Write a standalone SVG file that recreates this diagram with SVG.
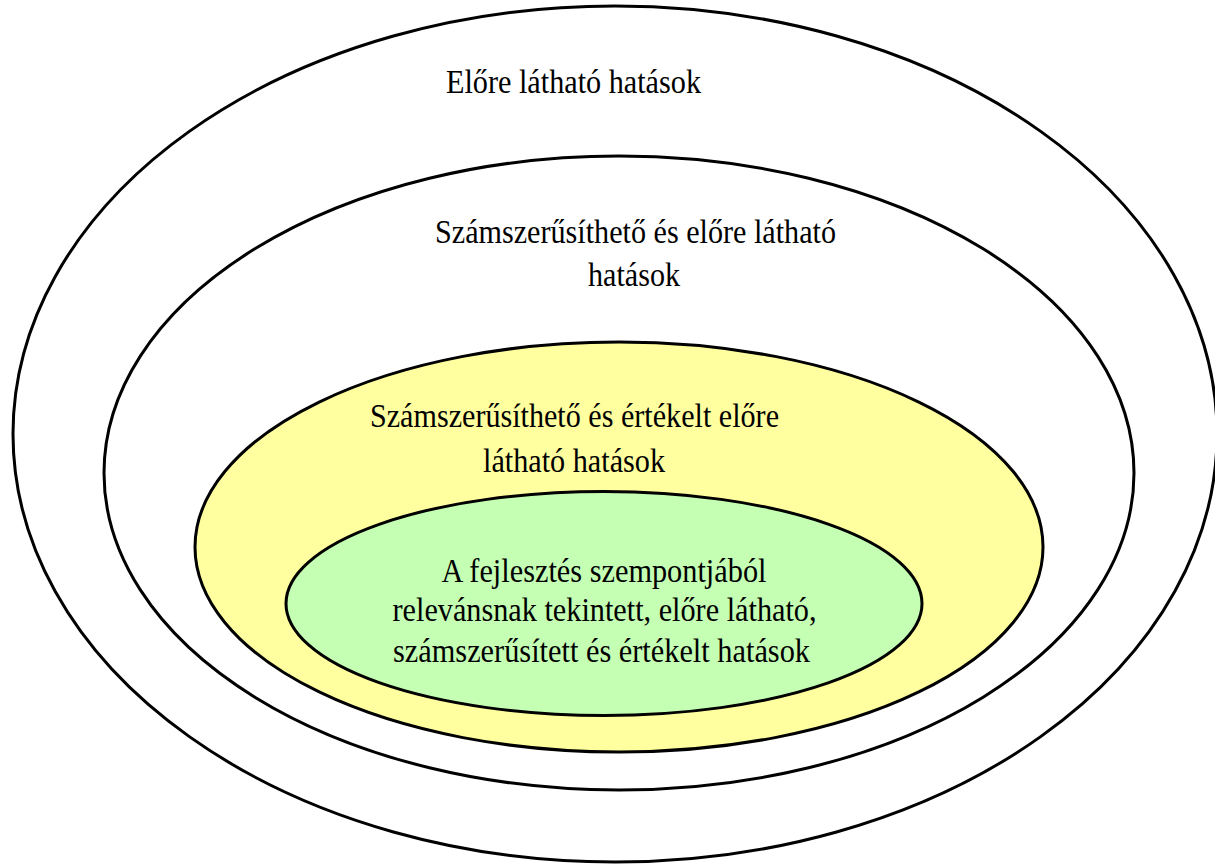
<svg xmlns="http://www.w3.org/2000/svg" width="1215" height="865" viewBox="0 0 1215 865">
<style>
.e{stroke:#000;stroke-width:3}
.t{font-family:"Liberation Serif","Times New Roman",serif;font-size:34px;fill:#000;text-anchor:middle}
</style>
<rect width="1215" height="865" fill="#fff"/>
<g id="outer">
<ellipse class="e" cx="615" cy="434" rx="602" ry="428" fill="#fff"/>
<text class="t" x="573.5" y="93" textLength="255" lengthAdjust="spacingAndGlyphs">Előre látható hatások</text>
</g>
<g id="quantifiable">
<ellipse class="e" cx="619" cy="473" rx="515" ry="317" fill="#fff"/>
<text class="t" x="635.5" y="243" textLength="401" lengthAdjust="spacingAndGlyphs">Számszerűsíthető és előre látható</text>
<text class="t" x="634" y="286" textLength="92" lengthAdjust="spacingAndGlyphs">hatások</text>
</g>
<g id="evaluated">
<ellipse class="e" cx="619" cy="547" rx="424" ry="205" fill="#FFFF9F"/>
<text class="t" x="574.5" y="427" textLength="409" lengthAdjust="spacingAndGlyphs">Számszerűsíthető és értékelt előre</text>
<text class="t" x="574" y="472" textLength="182" lengthAdjust="spacingAndGlyphs">látható hatások</text>
</g>
<g id="relevant">
<ellipse class="e" cx="604" cy="603.5" rx="318" ry="112" fill="#C4FFB4"/>
<text class="t" x="604" y="582" textLength="325" lengthAdjust="spacingAndGlyphs">A fejlesztés szempontjából</text>
<text class="t" x="604.5" y="621" textLength="424" lengthAdjust="spacingAndGlyphs">relevánsnak tekintett, előre látható,</text>
<text class="t" x="601.5" y="662" textLength="417" lengthAdjust="spacingAndGlyphs">számszerűsített és értékelt hatások</text>
</g>
<g id="connectors"></g>
</svg>
